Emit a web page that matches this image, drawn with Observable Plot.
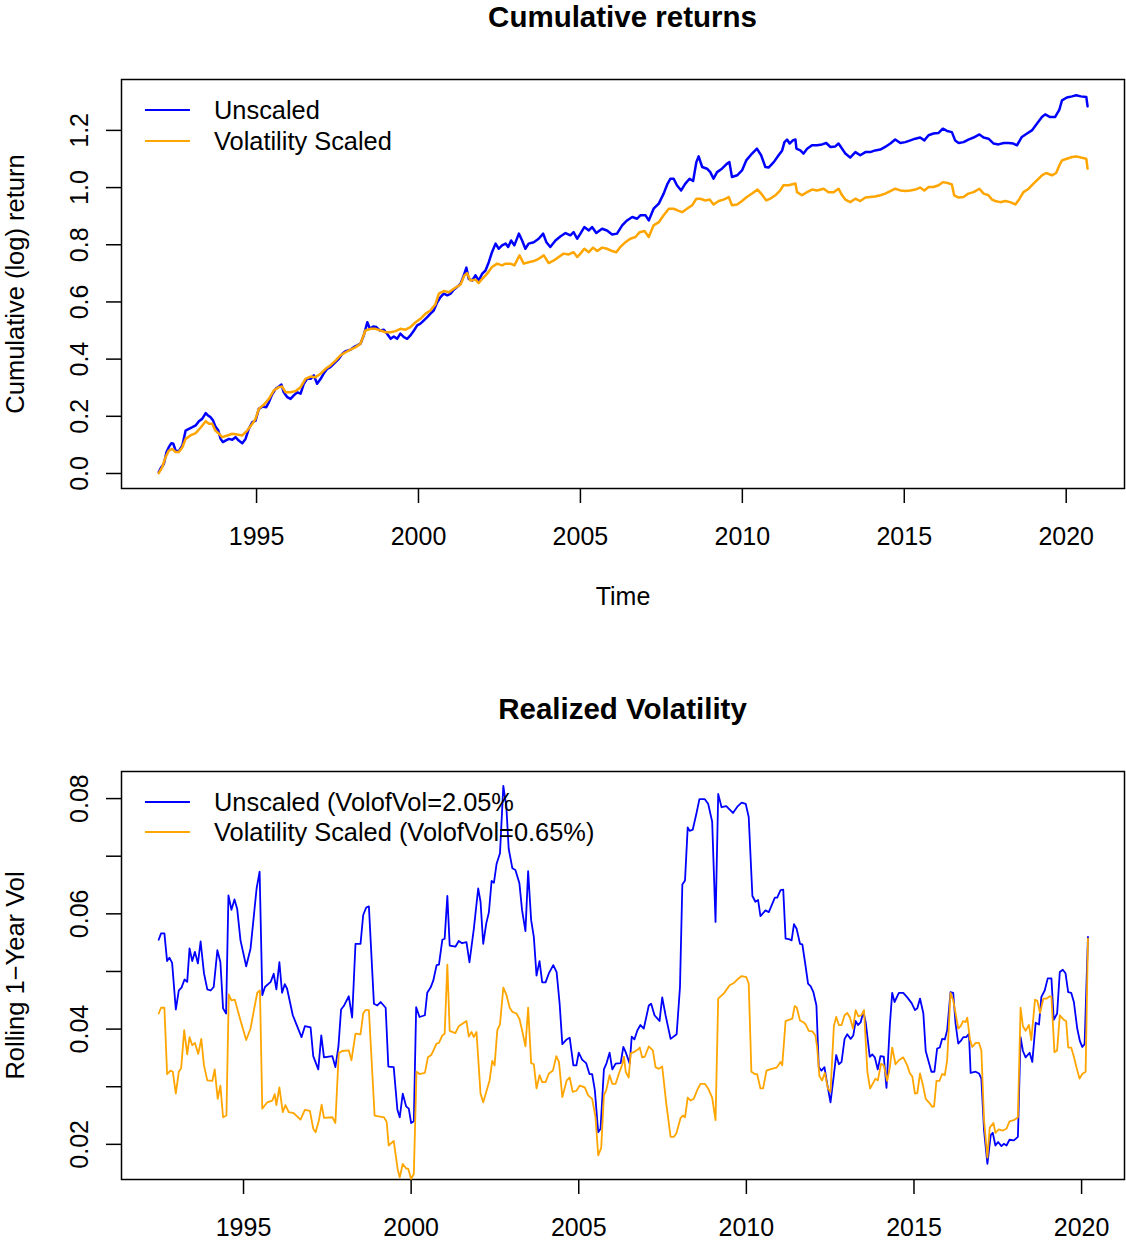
<!DOCTYPE html>
<html>
<head>
<meta charset="utf-8">
<script src="https://cdn.jsdelivr.net/npm/d3@7"></script>
<script src="https://cdn.jsdelivr.net/npm/@observablehq/plot@0.6"></script>
<style>
  html, body { margin: 0; padding: 0; background: #fff; }
  #page { position: relative; width: 1126px; height: 1242px; font-family: "Liberation Sans", Arial, Helvetica, sans-serif; }
  #top, #bottom, #overlay { position: absolute; left: 0; }
  #top { top: 0; }
  #bottom { top: 640px; }
  #overlay { top: 0; pointer-events: none; }
</style>
</head>
<body>
<div id="page">
  <div id="top"></div>
  <div id="bottom"></div>
  <svg id="overlay" width="1126" height="1242"></svg>
</div>
<script>
// ---------- DATA ----------
const xTicks = [1995, 2000, 2005, 2010, 2015, 2020];
const cumTicks = [0.0, 0.2, 0.4, 0.6, 0.8, 1.0, 1.2];
const volTicks = [0.02, 0.03, 0.04, 0.05, 0.06, 0.07, 0.08];
const volTickLabels = [0.02, 0.04, 0.06, 0.08];

const cumSeriesNames = ["Unscaled", "Volatility Scaled"];
const volSeriesNames = ["Unscaled (VolofVol=2.05%", "Volatility Scaled (VolofVol=0.65%)"];
const seriesColors = ["#0000FF", "#FFA500"];

// Cumulative (log) return, unscaled
const cumUnscaled = [
[1991.98,0.005],[1992.06,0.022],[1992.14,0.034],[1992.22,0.075],[1992.29,0.092],[1992.37,0.106],[1992.43,0.104],[1992.50,0.080],[1992.60,0.078],[1992.71,0.098],[1992.81,0.150],[1992.91,0.156],[1993.02,0.162],[1993.12,0.168],[1993.22,0.183],[1993.32,0.191],[1993.43,0.211],[1993.50,0.203],[1993.58,0.197],[1993.66,0.185],[1993.73,0.164],[1993.82,0.150],[1993.89,0.121],[1993.96,0.110],[1994.04,0.115],[1994.15,0.121],[1994.25,0.118],[1994.35,0.127],[1994.45,0.115],[1994.56,0.106],[1994.66,0.121],[1994.76,0.156],[1994.87,0.180],[1994.97,0.185],[1995.07,0.226],[1995.18,0.234],[1995.30,0.232],[1995.38,0.249],[1995.48,0.276],[1995.59,0.296],[1995.69,0.304],[1995.77,0.311],[1995.84,0.284],[1995.95,0.267],[1996.05,0.261],[1996.15,0.273],[1996.26,0.284],[1996.36,0.279],[1996.46,0.314],[1996.56,0.331],[1996.67,0.331],[1996.77,0.343],[1996.87,0.314],[1996.98,0.331],[1997.08,0.351],[1997.18,0.366],[1997.28,0.372],[1997.39,0.384],[1997.54,0.401],[1997.65,0.419],[1997.75,0.428],[1997.90,0.433],[1998.00,0.442],[1998.11,0.448],[1998.21,0.454],[1998.31,0.483],[1998.42,0.529],[1998.50,0.506],[1998.60,0.514],[1998.70,0.512],[1998.81,0.500],[1998.93,0.503],[1999.03,0.489],[1999.14,0.471],[1999.24,0.479],[1999.34,0.471],[1999.44,0.489],[1999.55,0.477],[1999.65,0.471],[1999.75,0.483],[1999.86,0.500],[1999.96,0.518],[2000.06,0.524],[2000.16,0.535],[2000.27,0.547],[2000.37,0.559],[2000.47,0.570],[2000.58,0.599],[2000.68,0.617],[2000.78,0.629],[2000.89,0.623],[2000.99,0.629],[2001.09,0.643],[2001.19,0.652],[2001.30,0.664],
[2001.38,0.687],[2001.48,0.720],[2001.55,0.681],[2001.66,0.675],[2001.76,0.693],[2001.86,0.675],[2001.97,0.699],[2002.07,0.710],[2002.17,0.739],[2002.27,0.774],[2002.38,0.804],[2002.48,0.786],[2002.58,0.798],[2002.69,0.804],[2002.77,0.792],[2002.86,0.815],[2002.96,0.798],[2003.10,0.839],[2003.20,0.815],[2003.30,0.786],[2003.40,0.804],[2003.56,0.809],[2003.71,0.821],[2003.85,0.839],[2003.95,0.809],[2004.07,0.792],[2004.23,0.815],[2004.38,0.829],[2004.54,0.841],[2004.69,0.833],[2004.79,0.844],[2004.90,0.821],[2005.00,0.839],[2005.12,0.862],[2005.26,0.850],[2005.36,0.862],[2005.49,0.841],[2005.67,0.856],[2005.82,0.850],[2005.98,0.836],[2006.13,0.839],[2006.29,0.868],[2006.44,0.885],[2006.60,0.897],[2006.75,0.891],[2006.85,0.903],[2007.01,0.903],[2007.11,0.885],[2007.26,0.926],[2007.42,0.944],[2007.57,0.979],[2007.68,1.011],[2007.78,1.031],[2007.88,1.031],[2007.98,1.008],[2008.11,0.990],[2008.24,1.014],[2008.37,1.031],[2008.48,1.023],[2008.58,1.089],[2008.65,1.109],[2008.76,1.072],[2008.91,1.066],[2009.01,1.054],[2009.11,1.031],[2009.22,1.054],[2009.37,1.066],[2009.53,1.084],[2009.60,1.089],[2009.68,1.037],[2009.84,1.043],[2009.99,1.060],[2010.12,1.095],[2010.30,1.119],[2010.45,1.136],[2010.58,1.113],[2010.71,1.072],[2010.81,1.070],[2010.97,1.089],[2011.12,1.113],
[2011.23,1.130],[2011.30,1.159],[2011.38,1.168],[2011.46,1.154],[2011.56,1.165],[2011.64,1.168],[2011.67,1.136],[2011.79,1.130],[2011.89,1.119],[2012.00,1.136],[2012.15,1.148],[2012.31,1.148],[2012.46,1.151],[2012.59,1.156],[2012.72,1.142],[2012.87,1.144],[2012.97,1.154],[2013.08,1.136],[2013.18,1.119],[2013.33,1.105],[2013.49,1.124],[2013.64,1.113],[2013.80,1.124],[2013.95,1.124],[2014.10,1.130],[2014.26,1.133],[2014.41,1.142],[2014.57,1.154],[2014.72,1.168],[2014.88,1.156],[2015.03,1.159],[2015.19,1.165],[2015.34,1.171],[2015.49,1.175],[2015.62,1.165],[2015.75,1.183],[2015.90,1.189],[2016.06,1.191],[2016.19,1.206],[2016.32,1.198],[2016.47,1.194],[2016.57,1.165],[2016.68,1.156],[2016.83,1.159],[2016.98,1.168],[2017.14,1.175],[2017.32,1.186],[2017.45,1.175],[2017.60,1.171],[2017.76,1.154],[2017.91,1.151],[2018.07,1.156],[2018.22,1.156],[2018.37,1.154],[2018.48,1.148],[2018.63,1.177],[2018.79,1.189],[2018.94,1.200],[2019.10,1.224],[2019.25,1.247],[2019.35,1.256],[2019.49,1.247],[2019.66,1.247],[2019.79,1.273],[2019.87,1.305],[2020.02,1.315],[2020.18,1.319],[2020.31,1.323],[2020.45,1.319],[2020.62,1.317],[2020.66,1.284]
];

// Cumulative (log) return, volatility scaled
const cumScaled = [
[1991.98,0.001],[1992.09,0.022],[1992.19,0.057],[1992.29,0.080],[1992.40,0.086],[1992.50,0.075],[1992.60,0.075],[1992.71,0.092],[1992.81,0.121],[1992.96,0.133],[1993.12,0.141],[1993.27,0.160],[1993.43,0.183],[1993.53,0.174],[1993.63,0.174],[1993.73,0.150],[1993.84,0.139],[1993.94,0.127],[1994.10,0.133],[1994.25,0.139],[1994.40,0.136],[1994.56,0.133],[1994.71,0.150],[1994.87,0.174],[1994.97,0.191],[1995.07,0.226],[1995.23,0.241],[1995.38,0.261],[1995.53,0.290],[1995.69,0.302],[1995.79,0.304],[1995.90,0.284],[1996.05,0.284],[1996.20,0.288],[1996.36,0.302],[1996.51,0.331],[1996.67,0.339],[1996.82,0.337],[1996.98,0.349],[1997.13,0.366],[1997.28,0.378],[1997.44,0.395],[1997.59,0.413],[1997.75,0.424],[1997.90,0.433],[1998.06,0.442],[1998.21,0.454],[1998.36,0.500],[1998.52,0.506],[1998.67,0.506],[1998.83,0.500],[1998.98,0.494],[1999.14,0.494],[1999.29,0.498],[1999.44,0.506],[1999.60,0.503],[1999.75,0.512],[1999.91,0.529],[2000.06,0.541],[2000.22,0.559],[2000.37,0.570],[2000.52,0.591],[2000.63,0.629],[2000.78,0.638],[2000.94,0.634],[2001.09,0.646],[2001.30,0.661],
[2001.42,0.693],[2001.50,0.701],[2001.60,0.675],[2001.76,0.678],[2001.86,0.666],[2001.97,0.681],[2002.12,0.699],[2002.27,0.722],[2002.43,0.734],[2002.58,0.728],[2002.69,0.734],[2002.84,0.734],[2002.96,0.728],[2003.12,0.763],[2003.25,0.734],[2003.40,0.739],[2003.56,0.743],[2003.71,0.751],[2003.87,0.763],[2004.02,0.736],[2004.18,0.745],[2004.33,0.757],[2004.48,0.769],[2004.64,0.766],[2004.79,0.774],[2004.90,0.757],[2005.00,0.769],[2005.12,0.786],[2005.26,0.774],[2005.39,0.790],[2005.52,0.778],[2005.67,0.790],[2005.82,0.786],[2005.98,0.778],[2006.11,0.774],[2006.23,0.792],[2006.39,0.809],[2006.54,0.821],[2006.70,0.827],[2006.83,0.844],[2006.98,0.848],[2007.11,0.827],[2007.26,0.868],[2007.42,0.879],[2007.57,0.903],[2007.73,0.926],[2007.88,0.926],[2008.00,0.920],[2008.14,0.914],[2008.29,0.926],[2008.45,0.938],[2008.58,0.961],[2008.70,0.961],[2008.86,0.955],[2008.99,0.958],[2009.11,0.941],[2009.27,0.953],[2009.42,0.958],[2009.58,0.967],[2009.68,0.938],[2009.84,0.941],[2009.99,0.953],[2010.14,0.967],[2010.30,0.979],[2010.47,0.993],[2010.58,0.979],[2010.74,0.955],[2010.86,0.961],[2011.02,0.973],[2011.17,0.990],
[2011.27,1.008],[2011.43,1.008],[2011.64,1.014],[2011.69,0.984],[2011.84,0.973],[2012.00,0.984],[2012.15,0.993],[2012.31,0.990],[2012.51,0.996],[2012.66,0.984],[2012.82,0.984],[2012.97,0.996],[2013.08,0.973],[2013.18,0.958],[2013.33,0.949],[2013.49,0.961],[2013.64,0.953],[2013.80,0.965],[2013.95,0.967],[2014.10,0.969],[2014.26,0.973],[2014.41,0.979],[2014.57,0.988],[2014.72,0.996],[2014.88,0.990],[2015.03,0.988],[2015.19,0.990],[2015.34,0.993],[2015.49,1.000],[2015.62,0.990],[2015.75,1.002],[2015.90,1.002],[2016.06,1.008],[2016.19,1.019],[2016.34,1.016],[2016.47,1.011],[2016.54,0.973],[2016.68,0.965],[2016.83,0.967],[2016.98,0.979],[2017.14,0.984],[2017.32,0.996],[2017.45,0.979],[2017.60,0.973],[2017.71,0.958],[2017.81,0.953],[2017.96,0.949],[2018.12,0.953],[2018.27,0.949],[2018.43,0.941],[2018.56,0.961],[2018.68,0.984],[2018.84,0.996],[2018.99,1.014],[2019.15,1.031],[2019.25,1.043],[2019.38,1.051],[2019.56,1.043],[2019.69,1.051],[2019.79,1.078],[2019.87,1.095],[2020.02,1.101],[2020.18,1.107],[2020.31,1.109],[2020.45,1.105],[2020.62,1.101],[2020.66,1.066]
];

// Rolling 1-year realized volatility, unscaled
const volUnscaled = [
[1992.47,0.0555],[1992.54,0.0566],[1992.64,0.0566],[1992.72,0.0518],[1992.79,0.0524],[1992.87,0.0515],[1992.98,0.0434],[1993.07,0.0467],[1993.15,0.0472],[1993.24,0.0486],[1993.32,0.0482],[1993.39,0.0540],[1993.47,0.0518],[1993.55,0.0534],[1993.64,0.0514],[1993.72,0.0552],[1993.82,0.0497],[1993.92,0.0469],[1994.02,0.0467],[1994.11,0.0473],[1994.22,0.0537],[1994.31,0.0516],[1994.39,0.0436],[1994.48,0.0427],[1994.55,0.0632],[1994.64,0.0607],[1994.73,0.0625],[1994.81,0.0609],[1994.91,0.0554],[1995.08,0.0509],[1995.21,0.0540],[1995.39,0.0644],[1995.48,0.0673],[1995.56,0.0459],[1995.64,0.0473],[1995.81,0.0482],[1995.90,0.0496],[1995.98,0.0469],[1996.07,0.0516],[1996.15,0.0463],[1996.23,0.0478],[1996.30,0.0470],[1996.47,0.0424],[1996.73,0.0386],[1996.83,0.0405],[1997.00,0.0403],[1997.08,0.0353],[1997.23,0.0330],[1997.32,0.0389],[1997.40,0.0351],[1997.65,0.0353],[1997.74,0.0334],[1997.83,0.0369],[1997.91,0.0434],[1997.99,0.0440],[1998.14,0.0457],[1998.24,0.0420],[1998.34,0.0548],[1998.49,0.0548],[1998.57,0.0598],[1998.66,0.0611],[1998.74,0.0613],[1998.89,0.0444],[1998.99,0.0441],[1999.09,0.0447],[1999.24,0.0437],[1999.32,0.0335],[1999.48,0.0334],[1999.59,0.0260],[1999.66,0.0247],[1999.75,0.0288],[1999.85,0.0266],[1999.93,0.0262],[2000.00,0.0237],[2000.08,0.0240],[2000.15,0.0438],[2000.25,0.0421],[2000.41,0.0424],[2000.48,0.0463],[2000.58,0.0472],[2000.66,0.0484],[2000.76,0.0511],[2000.83,0.0512],[2000.93,0.0555],[2001.00,0.0557],[2001.08,0.0631],[2001.15,0.0545],[2001.32,0.0543],[2001.42,0.0553],[2001.52,0.0549],[2001.65,0.0551],[2001.74,0.0516],[2001.87,0.0574],[2002.00,0.0644],[2002.07,0.0621],[2002.15,0.0548],[2002.24,0.0583],[2002.32,0.0603],[2002.40,0.0657],[2002.47,0.0654],[2002.55,0.0687],[2002.65,0.0705],[2002.75,0.0822],[2002.84,0.0786],[2002.91,0.0713],[2003.02,0.0679],[2003.11,0.0676],[2003.23,0.0653],[2003.31,0.0606],[2003.41,0.0570],[2003.49,0.0674],[2003.58,0.0589],[2003.66,0.0560],[2003.74,0.0493],[2003.83,0.0518],[2003.91,0.0481],[2004.01,0.0481],[2004.11,0.0497],[2004.24,0.0511],[2004.34,0.0499],[2004.43,0.0444],[2004.51,0.0374],[2004.64,0.0382],[2004.73,0.0385],[2004.84,0.0337],[2004.93,0.0337],[2005.00,0.0359],[2005.10,0.0347],[2005.22,0.0341],[2005.32,0.0322],[2005.40,0.0322],[2005.48,0.0294],[2005.58,0.0221],[2005.65,0.0227],[2005.75,0.0330],[2005.83,0.0341],[2005.92,0.0359],[2006.00,0.0330],[2006.10,0.0340],[2006.25,0.0341],[2006.33,0.0369],[2006.40,0.0360],[2006.52,0.0340],[2006.58,0.0387],[2006.66,0.0382],[2006.75,0.0398],[2006.84,0.0407],[2006.94,0.0401],[2007.09,0.0441],[2007.16,0.0444],[2007.26,0.0424],[2007.41,0.0414],[2007.49,0.0455],[2007.59,0.0424],[2007.74,0.0383],[2007.92,0.0391],[2008.02,0.0473],[2008.09,0.0651],[2008.17,0.0658],[2008.25,0.0750],[2008.31,0.0744],[2008.40,0.0746],[2008.51,0.0774],[2008.60,0.0799],[2008.76,0.0799],[2008.86,0.0791],[2008.98,0.0760],[2009.08,0.0586],[2009.16,0.0808],[2009.26,0.0785],[2009.40,0.0787],[2009.60,0.0775],[2009.73,0.0786],[2009.86,0.0793],[2009.98,0.0791],[2010.07,0.0768],[2010.18,0.0631],[2010.27,0.0621],[2010.35,0.0624],[2010.42,0.0596],[2010.57,0.0606],[2010.67,0.0603],[2010.85,0.0628],[2010.92,0.0628],[2011.02,0.0641],[2011.10,0.0642],[2011.17,0.0557],[2011.27,0.0556],[2011.35,0.0554],[2011.42,0.0582],[2011.50,0.0574],[2011.60,0.0548],[2011.67,0.0547],[2011.75,0.0516],[2011.84,0.0479],[2011.92,0.0474],[2012.00,0.0464],[2012.09,0.0441],[2012.16,0.0334],[2012.24,0.0328],[2012.33,0.0334],[2012.41,0.0305],[2012.51,0.0273],[2012.61,0.0320],[2012.68,0.0355],[2012.76,0.0339],[2012.84,0.0343],[2012.93,0.0383],[2013.01,0.0391],[2013.11,0.0383],[2013.19,0.0389],[2013.26,0.0414],[2013.33,0.0407],[2013.41,0.0412],[2013.49,0.0430],[2013.56,0.0412],[2013.68,0.0352],[2013.76,0.0356],[2013.83,0.0351],[2013.92,0.0330],[2014.00,0.0353],[2014.10,0.0352],[2014.18,0.0298],[2014.28,0.0407],[2014.35,0.0463],[2014.42,0.0447],[2014.55,0.0463],[2014.68,0.0463],[2014.80,0.0455],[2014.93,0.0445],[2015.03,0.0433],[2015.10,0.0436],[2015.18,0.0453],[2015.28,0.0427],[2015.35,0.0362],[2015.44,0.0343],[2015.52,0.0326],[2015.61,0.0326],[2015.69,0.0366],[2015.77,0.0368],[2015.84,0.0383],[2015.92,0.0382],[2015.99,0.0398],[2016.09,0.0464],[2016.17,0.0463],[2016.24,0.0410],[2016.32,0.0375],[2016.39,0.0379],[2016.47,0.0386],[2016.56,0.0386],[2016.64,0.0392],[2016.69,0.0324],[2016.84,0.0326],[2016.94,0.0323],[2017.01,0.0314],[2017.09,0.0224],[2017.19,0.0166],[2017.29,0.0216],[2017.35,0.0220],[2017.43,0.0198],[2017.51,0.0204],[2017.61,0.0197],[2017.68,0.0201],[2017.76,0.0198],[2017.85,0.0208],[2017.98,0.0207],[2018.10,0.0213],[2018.18,0.0386],[2018.25,0.0362],[2018.33,0.0351],[2018.45,0.0359],[2018.53,0.0343],[2018.63,0.0411],[2018.73,0.0408],[2018.80,0.0456],[2018.90,0.0467],[2018.99,0.0488],[2019.10,0.0488],[2019.17,0.0416],[2019.27,0.0427],[2019.35,0.0499],[2019.44,0.0503],[2019.52,0.0497],[2019.60,0.0464],[2019.69,0.0463],[2019.77,0.0447],[2019.87,0.0401],[2019.95,0.0379],[2020.02,0.0369],[2020.09,0.0374],[2020.19,0.0560]
];

// Rolling 1-year realized volatility, volatility scaled
const volScaled = [
[1992.47,0.0427],[1992.54,0.0437],[1992.64,0.0437],[1992.72,0.0322],[1992.82,0.0328],[1992.89,0.0326],[1992.98,0.0288],[1993.07,0.0326],[1993.14,0.0332],[1993.23,0.0398],[1993.32,0.0356],[1993.39,0.0386],[1993.47,0.0372],[1993.55,0.0376],[1993.65,0.0357],[1993.74,0.0383],[1993.82,0.0337],[1993.92,0.0311],[1994.07,0.0310],[1994.14,0.0330],[1994.23,0.0279],[1994.31,0.0302],[1994.39,0.0247],[1994.49,0.0250],[1994.56,0.0460],[1994.64,0.0450],[1994.74,0.0451],[1994.91,0.0415],[1995.08,0.0381],[1995.21,0.0401],[1995.31,0.0433],[1995.41,0.0463],[1995.49,0.0467],[1995.56,0.0262],[1995.71,0.0273],[1995.86,0.0276],[1995.93,0.0287],[1995.98,0.0268],[1996.07,0.0299],[1996.17,0.0256],[1996.25,0.0268],[1996.35,0.0256],[1996.50,0.0254],[1996.70,0.0243],[1996.83,0.0260],[1996.98,0.0258],[1997.08,0.0227],[1997.15,0.0221],[1997.25,0.0242],[1997.33,0.0269],[1997.40,0.0246],[1997.65,0.0247],[1997.74,0.0237],[1997.84,0.0358],[1997.94,0.0362],[1998.14,0.0363],[1998.22,0.0346],[1998.34,0.0392],[1998.49,0.0391],[1998.57,0.0427],[1998.64,0.0433],[1998.74,0.0433],[1998.91,0.0250],[1999.19,0.0247],[1999.27,0.0239],[1999.33,0.0198],[1999.48,0.0206],[1999.60,0.0156],[1999.66,0.0143],[1999.75,0.0166],[1999.85,0.0158],[1999.91,0.0158],[2000.00,0.0140],[2000.08,0.0149],[2000.16,0.0326],[2000.25,0.0322],[2000.41,0.0324],[2000.50,0.0351],[2000.60,0.0355],[2000.76,0.0375],[2000.83,0.0376],[2000.93,0.0389],[2001.00,0.0392],[2001.08,0.0512],[2001.15,0.0397],[2001.32,0.0393],[2001.42,0.0405],[2001.65,0.0414],[2001.72,0.0387],[2001.80,0.0395],[2001.87,0.0386],[2001.95,0.0395],[2002.07,0.0288],[2002.15,0.0273],[2002.24,0.0291],[2002.34,0.0311],[2002.42,0.0345],[2002.49,0.0337],[2002.57,0.0398],[2002.65,0.0408],[2002.75,0.0472],[2002.84,0.0460],[2002.94,0.0437],[2003.02,0.0430],[2003.14,0.0427],[2003.23,0.0418],[2003.31,0.0398],[2003.41,0.0370],[2003.49,0.0437],[2003.58,0.0341],[2003.66,0.0339],[2003.74,0.0297],[2003.83,0.0320],[2003.91,0.0308],[2004.01,0.0308],[2004.11,0.0323],[2004.23,0.0328],[2004.33,0.0353],[2004.41,0.0343],[2004.51,0.0282],[2004.64,0.0311],[2004.73,0.0316],[2004.82,0.0291],[2004.93,0.0293],[2005.03,0.0302],[2005.18,0.0299],[2005.28,0.0285],[2005.40,0.0279],[2005.50,0.0247],[2005.58,0.0181],[2005.67,0.0194],[2005.75,0.0285],[2005.82,0.0294],[2005.92,0.0320],[2006.00,0.0305],[2006.10,0.0305],[2006.20,0.0323],[2006.30,0.0339],[2006.35,0.0352],[2006.40,0.0326],[2006.49,0.0316],[2006.55,0.0358],[2006.64,0.0360],[2006.75,0.0364],[2006.82,0.0368],[2006.89,0.0351],[2006.97,0.0352],[2007.09,0.0370],[2007.21,0.0363],[2007.29,0.0334],[2007.39,0.0331],[2007.49,0.0335],[2007.61,0.0271],[2007.74,0.0213],[2007.84,0.0213],[2007.91,0.0219],[2008.04,0.0246],[2008.11,0.0250],[2008.17,0.0247],[2008.25,0.0281],[2008.34,0.0276],[2008.43,0.0279],[2008.54,0.0295],[2008.63,0.0305],[2008.76,0.0305],[2008.86,0.0297],[2008.98,0.0281],[2009.08,0.0242],[2009.16,0.0453],[2009.33,0.0462],[2009.50,0.0476],[2009.63,0.0480],[2009.73,0.0486],[2009.86,0.0492],[2010.00,0.0490],[2010.07,0.0479],[2010.15,0.0326],[2010.25,0.0322],[2010.32,0.0322],[2010.42,0.0297],[2010.50,0.0297],[2010.60,0.0328],[2010.75,0.0331],[2010.90,0.0333],[2011.02,0.0343],[2011.07,0.0337],[2011.17,0.0414],[2011.27,0.0416],[2011.37,0.0418],[2011.44,0.0440],[2011.50,0.0438],[2011.60,0.0415],[2011.70,0.0412],[2011.77,0.0408],[2011.86,0.0397],[2011.97,0.0396],[2012.06,0.0389],[2012.11,0.0369],[2012.18,0.0318],[2012.26,0.0311],[2012.34,0.0324],[2012.43,0.0297],[2012.51,0.0291],[2012.61,0.0405],[2012.68,0.0421],[2012.76,0.0407],[2012.84,0.0407],[2012.93,0.0424],[2013.01,0.0428],[2013.09,0.0420],[2013.18,0.0401],[2013.26,0.0433],[2013.34,0.0422],[2013.43,0.0424],[2013.51,0.0433],[2013.61,0.0326],[2013.69,0.0297],[2013.76,0.0304],[2013.85,0.0314],[2013.92,0.0311],[2014.02,0.0340],[2014.10,0.0337],[2014.20,0.0310],[2014.28,0.0334],[2014.35,0.0368],[2014.45,0.0339],[2014.55,0.0346],[2014.68,0.0351],[2014.80,0.0337],[2014.88,0.0323],[2014.95,0.0318],[2015.03,0.0288],[2015.10,0.0289],[2015.18,0.0323],[2015.27,0.0302],[2015.35,0.0279],[2015.47,0.0271],[2015.55,0.0265],[2015.60,0.0266],[2015.67,0.0310],[2015.76,0.0310],[2015.84,0.0322],[2015.92,0.0320],[2015.99,0.0346],[2016.09,0.0463],[2016.17,0.0450],[2016.26,0.0421],[2016.32,0.0401],[2016.39,0.0405],[2016.47,0.0414],[2016.54,0.0412],[2016.59,0.0420],[2016.67,0.0382],[2016.74,0.0369],[2016.84,0.0376],[2016.94,0.0376],[2017.01,0.0363],[2017.09,0.0242],[2017.19,0.0177],[2017.26,0.0229],[2017.37,0.0237],[2017.43,0.0220],[2017.53,0.0226],[2017.65,0.0224],[2017.76,0.0227],[2017.85,0.0240],[2017.98,0.0242],[2018.10,0.0247],[2018.18,0.0437],[2018.25,0.0405],[2018.33,0.0397],[2018.43,0.0407],[2018.50,0.0381],[2018.61,0.0451],[2018.68,0.0449],[2018.76,0.0428],[2018.86,0.0453],[2018.96,0.0453],[2019.05,0.0457],[2019.10,0.0456],[2019.19,0.0360],[2019.27,0.0363],[2019.35,0.0424],[2019.47,0.0416],[2019.54,0.0414],[2019.60,0.0368],[2019.69,0.0368],[2019.77,0.0352],[2019.85,0.0333],[2019.94,0.0314],[2020.02,0.0322],[2020.12,0.0326],[2020.19,0.0557]
];

// ---------- RENDERING ----------
const FONT = "'Liberation Sans', Arial, Helvetica, sans-serif";
const fmt1 = d3.format(".1f");
const fmt2 = d3.format(".2f");

function panel({height, marginTop, marginBottom, xDomain, yDomain, series, yTicks, yLabelTicks, yFmt, yLabel, xLabel}) {
  const marks = [
    Plot.frame({stroke: "black", strokeWidth: 1.5}),
    Plot.axisX({ticks: xTicks, tickSize: 15, tickPadding: 24, tickFormat: d => String(d), label: null, fontSize: 25, strokeWidth: 1.5}),
    Plot.axisY({ticks: yTicks, tickSize: 15, tickFormat: () => "", label: null, strokeWidth: 1.5}),
    Plot.text(yLabelTicks, {y: d => d, text: d => yFmt(d), frameAnchor: "left", dx: -34, rotate: -90, textAnchor: "middle", lineAnchor: "bottom", fontSize: 25}),
    Plot.text([yLabel], {text: d => d, frameAnchor: "left", dx: -98, rotate: -90, textAnchor: "middle", lineAnchor: "bottom", fontSize: 25.5})
  ];
  if (xLabel) marks.push(Plot.text([xLabel], {text: d => d, frameAnchor: "bottom", dy: 108, lineAnchor: "middle", fontSize: 25}));
  series.forEach((s, i) => {
    marks.push(Plot.line(s.data, {x: d => d[0], y: d => d[1], stroke: seriesColors[i], strokeWidth: s.width}));
  });
  return Plot.plot({
    width: 1126,
    height,
    marginTop,
    marginBottom,
    marginLeft: 121,
    marginRight: 2,
    x: {domain: xDomain},
    y: {domain: yDomain},
    style: {fontFamily: FONT, fontSize: "25px", color: "black", background: "white", overflow: "visible"},
    marks
  });
}

document.getElementById("top").appendChild(panel({
  height: 640, marginTop: 79, marginBottom: 152,
  xDomain: [1990.83, 2021.80], yDomain: [-0.0525, 1.378],
  series: [{data: cumUnscaled, width: 2.5}, {data: cumScaled, width: 2.5}],
  yTicks: cumTicks, yLabelTicks: cumTicks, yFmt: fmt1,
  yLabel: "Cumulative (log) return", xLabel: "Time"
}));

document.getElementById("bottom").appendChild(panel({
  height: 602, marginTop: 131, marginBottom: 63,
  xDomain: [1991.36, 2021.28], yDomain: [0.0139, 0.0847],
  series: [{data: volUnscaled, width: 1.8}, {data: volScaled, width: 1.8}],
  yTicks: volTicks, yLabelTicks: volTickLabels, yFmt: fmt2,
  yLabel: "Rolling 1\u2212Year Vol", xLabel: null
}));

// ---------- TITLES & LEGENDS (overlay) ----------
const ov = d3.select("#overlay").style("font-family", FONT);
const titles = [{text: "Cumulative returns", y: 27}, {text: "Realized Volatility", y: 719}];
ov.selectAll("text.title").data(titles).join("text")
  .attr("class", "title").attr("x", 622.5).attr("y", d => d.y)
  .attr("text-anchor", "middle").attr("font-weight", "bold").attr("font-size", 29.5)
  .attr("fill", "black").text(d => d.text);

function legend(names, ys) {
  names.forEach((name, i) => {
    ov.append("line").attr("x1", 145).attr("x2", 190).attr("y1", ys[i]).attr("y2", ys[i])
      .attr("stroke", seriesColors[i]).attr("stroke-width", 1.8);
    ov.append("text").attr("x", 214).attr("y", ys[i] + 9).attr("font-size", 25.4)
      .attr("fill", "black").text(name);
  });
}
legend(cumSeriesNames, [110, 141]);
legend(volSeriesNames, [802, 832]);
</script>
</body>
</html>
